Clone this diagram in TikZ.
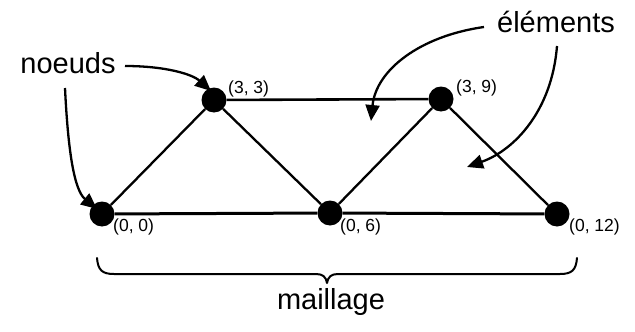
\documentclass[tikz,border=0pt]{standalone}
\usepackage{fontspec}
\setmainfont{Liberation Sans}
\usetikzlibrary{arrows.meta}
\begin{document}
\begin{tikzpicture}[x=1pt,y=-1pt,
  dot/.style={circle,fill=black,inner sep=0pt,minimum size=25pt},
  coord/.style={inner sep=0pt,font=\fontsize{17.5}{18}\selectfont},
  big/.style={inner sep=0pt,font=\fontsize{29}{29}\selectfont},
  edge/.style={line width=2.3pt},
  callout/.style={line width=2.3pt,-{Triangle[length=16pt,width=14pt]}},
  bracestyle/.style={line width=2pt,line join=round,line cap=round}]
\useasboundingbox (0,0) rectangle (635,332);
\node[dot] (n00) at (102,214) {};
\node[dot] (n33) at (214,100) {};
\node[dot] (n06) at (330,213) {};
\node[dot] (n39) at (441,99) {};
\node[dot] (n012) at (557,214) {};
\draw[edge] (n00) -- (n33);
\draw[edge] (n33) -- (n06);
\draw[edge] (n06) -- (n39);
\draw[edge] (n39) -- (n012);
\draw[line width=2.6pt] (n33) -- (n39);
\draw[line width=3pt] (n00) -- (n06);
\draw[line width=3pt] (n06) -- (n012);
\node[coord,anchor=west] (l00) at (113,227) {(0, 0)};
\node[coord,anchor=west] (l33) at (228,89) {(3, 3)};
\node[coord,anchor=west] (l06) at (340,227) {(0, 6)};
\node[coord,anchor=west] (l39) at (456,88) {(3, 9)};
\node[coord,anchor=west] (l012) at (569,227) {(0, 12)};
\node[big] (noeuds) at (68,63) {noeuds};
\node[big] (elements) at (556,22) {éléments};
\node[big] (maillage) at (331,302) {maillage};
\coordinate (a1s) at (125,66);
\coordinate (a2s) at (65,88);
\coordinate (b1s) at (484,27);
\coordinate (b2s) at (557,46);
\draw[callout] (a1s) .. controls (165,66) and (192,74) .. (211,91);
\draw[callout] (a2s) .. controls (68,150) and (74,190) .. (97,209);
\draw[callout] (b1s) .. controls (420,36) and (376,70) .. (371,121);
\draw[callout] (b2s) .. controls (552,110) and (515,150) .. (467,167);
\coordinate (br1) at (97,258);
\coordinate (brtip) at (327,283);
\coordinate (br2) at (577,258);
\draw[bracestyle] (br1) .. controls (98,270) and (102,274) .. (114,274)
  -- (316,274) .. controls (323,274) and (326,277) .. (brtip)
  .. controls (328,277) and (331,274) .. (338,274)
  -- (560,274) .. controls (572,274) and (576,270) .. (br2);
\end{tikzpicture}
\end{document}
